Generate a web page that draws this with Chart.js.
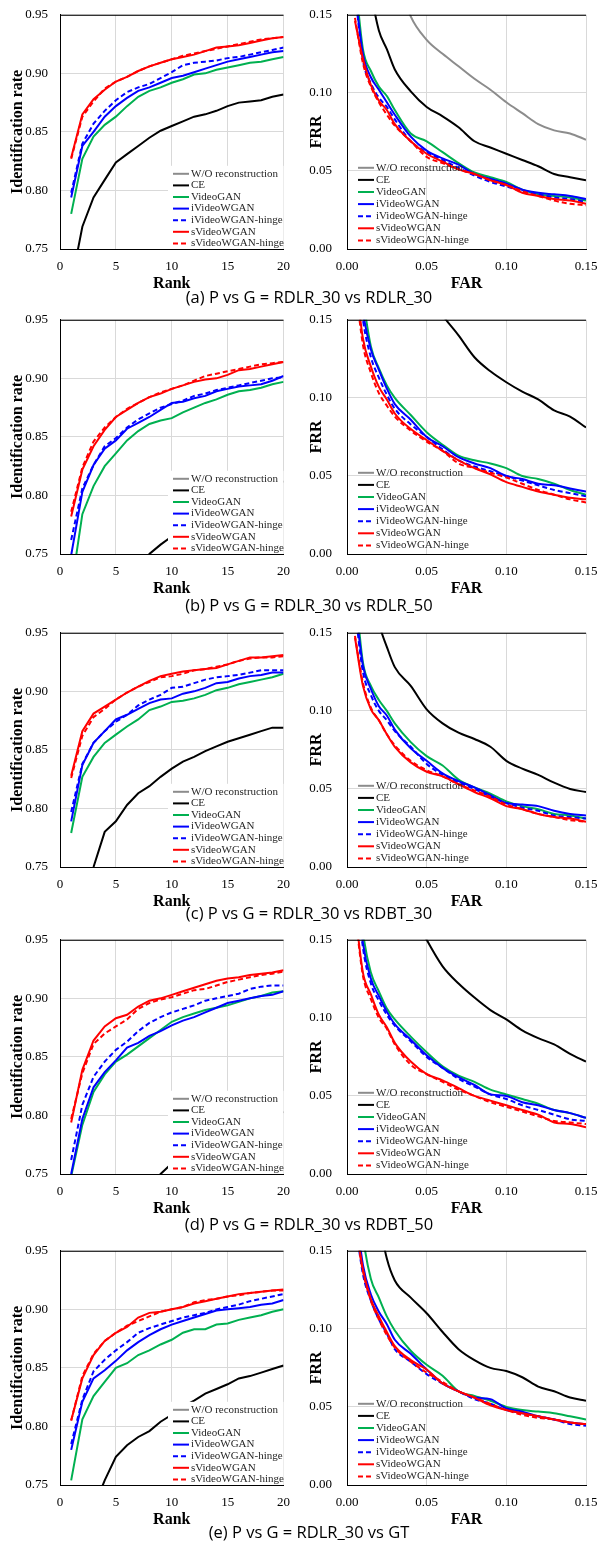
<!DOCTYPE html>
<html>
<head>
<meta charset="utf-8">
<script src="https://cdn.jsdelivr.net/npm/chart.js@4.4.1/dist/chart.umd.min.js"></script>
<style>
  html, body { margin: 0; padding: 0; background: #fff; overflow: hidden; }
  body { position: relative; width: 597px; height: 1543px; }
  canvas { position: absolute; }
  .cap { position: absolute; left: 109px; width: 400px; text-align: center;
         font: 16.5px "Open Sans", sans-serif; line-height: 20px; color: #000; }
</style>
</head>
<body>
<script>
// 系列名稱與樣式
const seriesLabels = ['W/O reconstruction', 'CE', 'VideoGAN', 'iVideoWGAN', 'iVideoWGAN-hinge', 'sVideoWGAN', 'sVideoWGAN-hinge'];
const seriesColors = ['#8c8c8c', '#000000', '#00b050', '#0000ff', '#0000ff', '#ff0000', '#ff0000'];
const seriesDashed = [false, false, false, false, true, false, true];

const ranks = [1, 2, 3, 4, 5, 6, 7, 8, 9, 10, 11, 12, 13, 14, 15, 16, 17, 18, 19, 20];
const farValues = [0.005, 0.01, 0.015, 0.02, 0.025, 0.03, 0.04, 0.05, 0.06, 0.07, 0.08, 0.09, 0.10, 0.11, 0.12, 0.13, 0.14, 0.15];

const rankTicks = [0, 5, 10, 15, 20];
const idRateTicks = [0.75, 0.80, 0.85, 0.90, 0.95];
const errTicks = [0.00, 0.05, 0.10, 0.15];

const captions = [
  '(a) P vs G = RDLR_30 vs RDLR_30',
  '(b) P vs G = RDLR_30 vs RDLR_50',
  '(c) P vs G = RDLR_30 vs RDBT_30',
  '(d) P vs G = RDLR_30 vs RDBT_50',
  '(e) P vs G = RDLR_30 vs GT'
];

// Identification rate (rank 1..20), 順序同 seriesLabels
const idRateA = [
  [0.58, 0.61, 0.63, 0.645, 0.655, 0.665, 0.675, 0.683, 0.69, 0.697, 0.703, 0.708, 0.713, 0.718, 0.722, 0.726, 0.73, 0.733, 0.736, 0.739],
  [0.72, 0.769, 0.794, 0.809, 0.824, 0.831, 0.838, 0.845, 0.851, 0.855, 0.859, 0.863, 0.865, 0.868, 0.872, 0.875, 0.876, 0.877, 0.880, 0.882],
  [0.780, 0.827, 0.846, 0.856, 0.863, 0.872, 0.880, 0.885, 0.888, 0.892, 0.895, 0.899, 0.900, 0.903, 0.905, 0.907, 0.909, 0.910, 0.912, 0.914],
  [0.794, 0.838, 0.850, 0.863, 0.872, 0.879, 0.885, 0.888, 0.892, 0.896, 0.898, 0.901, 0.904, 0.907, 0.910, 0.912, 0.914, 0.916, 0.918, 0.919],
  [0.798, 0.840, 0.857, 0.868, 0.877, 0.884, 0.888, 0.891, 0.896, 0.901, 0.907, 0.909, 0.910, 0.911, 0.913, 0.914, 0.916, 0.918, 0.920, 0.922],
  [0.828, 0.865, 0.878, 0.886, 0.893, 0.897, 0.902, 0.906, 0.909, 0.912, 0.914, 0.916, 0.919, 0.922, 0.923, 0.924, 0.926, 0.928, 0.930, 0.931],
  [0.827, 0.863, 0.876, 0.887, 0.893, 0.897, 0.902, 0.906, 0.909, 0.912, 0.915, 0.917, 0.919, 0.921, 0.923, 0.925, 0.927, 0.929, 0.930, 0.931]
];
const idRateB = [
  [0.52, 0.55, 0.57, 0.59, 0.60, 0.61, 0.62, 0.63, 0.64, 0.645, 0.65, 0.655, 0.66, 0.665, 0.67, 0.674, 0.678, 0.682, 0.686, 0.69],
  [0.60, 0.64, 0.665, 0.685, 0.70, 0.715, 0.73, 0.75, 0.758, 0.765, 0.772, 0.778, 0.784, 0.789, 0.794, 0.798, 0.802, 0.806, 0.809, 0.812],
  [0.72, 0.784, 0.808, 0.825, 0.836, 0.847, 0.855, 0.861, 0.864, 0.866, 0.871, 0.875, 0.879, 0.882, 0.886, 0.889, 0.890, 0.892, 0.895, 0.897],
  [0.749, 0.803, 0.826, 0.840, 0.847, 0.857, 0.862, 0.867, 0.873, 0.879, 0.880, 0.883, 0.885, 0.889, 0.891, 0.893, 0.894, 0.895, 0.898, 0.902],
  [0.762, 0.806, 0.826, 0.842, 0.849, 0.858, 0.865, 0.870, 0.875, 0.878, 0.881, 0.885, 0.887, 0.890, 0.892, 0.894, 0.896, 0.898, 0.900, 0.901],
  [0.782, 0.822, 0.842, 0.856, 0.867, 0.873, 0.879, 0.884, 0.887, 0.891, 0.894, 0.897, 0.899, 0.900, 0.903, 0.907, 0.908, 0.910, 0.912, 0.914],
  [0.786, 0.824, 0.846, 0.858, 0.867, 0.874, 0.879, 0.884, 0.888, 0.891, 0.894, 0.898, 0.902, 0.904, 0.906, 0.908, 0.910, 0.912, 0.913, 0.914]
];
const idRateC = [
  [0.56, 0.59, 0.61, 0.625, 0.64, 0.65, 0.66, 0.668, 0.676, 0.683, 0.69, 0.695, 0.70, 0.705, 0.71, 0.714, 0.718, 0.722, 0.726, 0.73],
  [0.70, 0.725, 0.750, 0.780, 0.789, 0.803, 0.813, 0.819, 0.827, 0.834, 0.840, 0.844, 0.849, 0.853, 0.857, 0.860, 0.863, 0.866, 0.869, 0.869],
  [0.779, 0.827, 0.844, 0.856, 0.863, 0.870, 0.876, 0.884, 0.887, 0.891, 0.892, 0.894, 0.897, 0.901, 0.903, 0.906, 0.908, 0.910, 0.912, 0.915],
  [0.789, 0.837, 0.856, 0.866, 0.876, 0.880, 0.885, 0.890, 0.893, 0.894, 0.898, 0.900, 0.903, 0.907, 0.908, 0.911, 0.913, 0.914, 0.916, 0.916],
  [0.797, 0.838, 0.856, 0.866, 0.874, 0.880, 0.888, 0.893, 0.897, 0.903, 0.904, 0.907, 0.910, 0.912, 0.913, 0.914, 0.916, 0.918, 0.918, 0.918],
  [0.828, 0.866, 0.881, 0.887, 0.893, 0.899, 0.904, 0.909, 0.913, 0.915, 0.917, 0.918, 0.919, 0.920, 0.923, 0.926, 0.929, 0.929, 0.930, 0.931],
  [0.826, 0.862, 0.878, 0.885, 0.893, 0.899, 0.904, 0.908, 0.912, 0.913, 0.915, 0.918, 0.919, 0.921, 0.923, 0.926, 0.928, 0.929, 0.929, 0.930]
];
const idRateD = [
  [0.50, 0.53, 0.55, 0.57, 0.58, 0.59, 0.60, 0.61, 0.62, 0.63, 0.635, 0.64, 0.645, 0.65, 0.655, 0.66, 0.665, 0.67, 0.674, 0.678],
  [0.55, 0.60, 0.64, 0.67, 0.69, 0.71, 0.725, 0.738, 0.750, 0.759, 0.767, 0.774, 0.780, 0.785, 0.789, 0.793, 0.796, 0.799, 0.801, 0.803],
  [0.748, 0.792, 0.820, 0.835, 0.846, 0.852, 0.859, 0.866, 0.873, 0.880, 0.884, 0.887, 0.890, 0.892, 0.894, 0.897, 0.900, 0.902, 0.905, 0.906],
  [0.750, 0.797, 0.824, 0.837, 0.847, 0.858, 0.862, 0.868, 0.872, 0.877, 0.881, 0.884, 0.888, 0.892, 0.896, 0.898, 0.900, 0.902, 0.903, 0.906],
  [0.762, 0.809, 0.833, 0.846, 0.856, 0.863, 0.872, 0.879, 0.884, 0.888, 0.891, 0.894, 0.898, 0.900, 0.902, 0.904, 0.908, 0.910, 0.911, 0.911],
  [0.794, 0.839, 0.864, 0.876, 0.883, 0.886, 0.893, 0.898, 0.900, 0.903, 0.906, 0.909, 0.912, 0.915, 0.917, 0.918, 0.920, 0.921, 0.922, 0.924],
  [0.797, 0.836, 0.861, 0.870, 0.876, 0.882, 0.891, 0.896, 0.899, 0.901, 0.904, 0.907, 0.908, 0.911, 0.914, 0.916, 0.918, 0.920, 0.921, 0.923]
];
const idRateE = [
  [0.54, 0.57, 0.59, 0.61, 0.62, 0.63, 0.64, 0.65, 0.66, 0.667, 0.674, 0.68, 0.686, 0.69, 0.695, 0.70, 0.704, 0.708, 0.712, 0.716],
  [0.68, 0.70, 0.73, 0.754, 0.774, 0.784, 0.791, 0.796, 0.804, 0.810, 0.817, 0.822, 0.828, 0.832, 0.836, 0.841, 0.843, 0.846, 0.849, 0.852],
  [0.754, 0.806, 0.826, 0.838, 0.850, 0.854, 0.861, 0.865, 0.870, 0.874, 0.880, 0.883, 0.883, 0.887, 0.888, 0.891, 0.893, 0.895, 0.898, 0.900],
  [0.780, 0.821, 0.841, 0.848, 0.856, 0.865, 0.872, 0.878, 0.883, 0.887, 0.890, 0.893, 0.896, 0.899, 0.900, 0.901, 0.902, 0.904, 0.905, 0.908],
  [0.785, 0.823, 0.847, 0.857, 0.865, 0.872, 0.880, 0.884, 0.887, 0.890, 0.893, 0.895, 0.897, 0.900, 0.902, 0.904, 0.907, 0.909, 0.911, 0.913],
  [0.805, 0.841, 0.861, 0.873, 0.880, 0.885, 0.893, 0.897, 0.898, 0.900, 0.902, 0.905, 0.907, 0.909, 0.911, 0.913, 0.914, 0.915, 0.916, 0.917],
  [0.805, 0.843, 0.862, 0.873, 0.880, 0.886, 0.890, 0.894, 0.898, 0.900, 0.902, 0.906, 0.908, 0.909, 0.911, 0.912, 0.914, 0.915, 0.916, 0.916]
];

// FRR (at farValues), 順序同 seriesLabels
const frrA = [
  [0.45, 0.35, 0.29, 0.24, 0.21, 0.18, 0.149, 0.134, 0.125, 0.117, 0.109, 0.102, 0.094, 0.087, 0.080, 0.076, 0.074, 0.070],
  [0.27, 0.20, 0.165, 0.140, 0.128, 0.115, 0.101, 0.091, 0.085, 0.078, 0.069, 0.065, 0.061, 0.057, 0.053, 0.048, 0.046, 0.044],
  [0.175, 0.128, 0.114, 0.104, 0.098, 0.089, 0.074, 0.069, 0.062, 0.055, 0.049, 0.046, 0.043, 0.038, 0.035, 0.034, 0.033, 0.031],
  [0.165, 0.125, 0.110, 0.102, 0.094, 0.086, 0.072, 0.063, 0.058, 0.054, 0.048, 0.045, 0.042, 0.038, 0.036, 0.035, 0.034, 0.032],
  [0.165, 0.121, 0.106, 0.097, 0.091, 0.083, 0.069, 0.062, 0.057, 0.052, 0.047, 0.043, 0.040, 0.037, 0.035, 0.033, 0.032, 0.030],
  [0.146, 0.122, 0.105, 0.095, 0.089, 0.080, 0.069, 0.061, 0.056, 0.051, 0.048, 0.044, 0.041, 0.036, 0.034, 0.032, 0.031, 0.029],
  [0.148, 0.119, 0.104, 0.094, 0.086, 0.079, 0.069, 0.059, 0.055, 0.051, 0.048, 0.044, 0.041, 0.037, 0.034, 0.031, 0.029, 0.028]
];
const frrB = [
  [0.62, 0.50, 0.44, 0.40, 0.37, 0.34, 0.31, 0.29, 0.27, 0.255, 0.24, 0.23, 0.22, 0.21, 0.20, 0.19, 0.18, 0.175],
  [0.42, 0.35, 0.30, 0.27, 0.245, 0.22, 0.19, 0.17, 0.153, 0.140, 0.126, 0.117, 0.110, 0.104, 0.099, 0.092, 0.088, 0.081],
  [0.21, 0.165, 0.133, 0.119, 0.108, 0.100, 0.089, 0.078, 0.070, 0.063, 0.060, 0.058, 0.055, 0.050, 0.048, 0.045, 0.041, 0.038],
  [0.20, 0.155, 0.131, 0.118, 0.106, 0.096, 0.086, 0.075, 0.069, 0.062, 0.058, 0.055, 0.050, 0.048, 0.045, 0.044, 0.042, 0.040],
  [0.195, 0.150, 0.126, 0.113, 0.102, 0.093, 0.083, 0.075, 0.067, 0.060, 0.056, 0.053, 0.050, 0.047, 0.044, 0.041, 0.039, 0.037],
  [0.18, 0.138, 0.120, 0.107, 0.099, 0.090, 0.080, 0.073, 0.066, 0.060, 0.055, 0.051, 0.046, 0.043, 0.040, 0.038, 0.036, 0.035],
  [0.175, 0.134, 0.116, 0.103, 0.095, 0.088, 0.079, 0.072, 0.066, 0.058, 0.055, 0.052, 0.049, 0.045, 0.041, 0.038, 0.035, 0.033]
];
const frrC = [
  [0.60, 0.48, 0.42, 0.38, 0.35, 0.32, 0.29, 0.27, 0.25, 0.235, 0.22, 0.21, 0.20, 0.19, 0.18, 0.172, 0.165, 0.16],
  [0.29, 0.22, 0.18, 0.156, 0.141, 0.128, 0.116, 0.101, 0.092, 0.086, 0.082, 0.077, 0.068, 0.063, 0.059, 0.054, 0.050, 0.048],
  [0.18, 0.131, 0.116, 0.107, 0.100, 0.092, 0.080, 0.071, 0.065, 0.056, 0.051, 0.047, 0.042, 0.039, 0.037, 0.034, 0.033, 0.031],
  [0.17, 0.129, 0.114, 0.103, 0.097, 0.088, 0.076, 0.068, 0.060, 0.055, 0.051, 0.046, 0.041, 0.040, 0.039, 0.036, 0.034, 0.033],
  [0.165, 0.125, 0.110, 0.100, 0.094, 0.087, 0.077, 0.066, 0.059, 0.054, 0.050, 0.045, 0.041, 0.038, 0.036, 0.033, 0.032, 0.031],
  [0.147, 0.116, 0.101, 0.094, 0.085, 0.077, 0.067, 0.061, 0.058, 0.053, 0.048, 0.044, 0.039, 0.037, 0.034, 0.032, 0.031, 0.029],
  [0.148, 0.118, 0.102, 0.094, 0.085, 0.078, 0.068, 0.062, 0.058, 0.053, 0.049, 0.045, 0.040, 0.037, 0.034, 0.032, 0.030, 0.029]
];
const frrD = [
  [0.64, 0.52, 0.46, 0.42, 0.38, 0.35, 0.32, 0.30, 0.28, 0.26, 0.245, 0.235, 0.225, 0.215, 0.205, 0.195, 0.185, 0.18],
  [0.40, 0.33, 0.29, 0.25, 0.22, 0.20, 0.17, 0.150, 0.133, 0.122, 0.113, 0.105, 0.099, 0.092, 0.087, 0.083, 0.077, 0.072],
  [0.21, 0.155, 0.129, 0.117, 0.106, 0.099, 0.088, 0.078, 0.069, 0.063, 0.059, 0.054, 0.051, 0.048, 0.045, 0.041, 0.039, 0.036],
  [0.20, 0.148, 0.125, 0.114, 0.104, 0.096, 0.086, 0.076, 0.068, 0.062, 0.057, 0.051, 0.050, 0.046, 0.044, 0.041, 0.039, 0.036],
  [0.195, 0.145, 0.122, 0.111, 0.102, 0.095, 0.085, 0.075, 0.068, 0.061, 0.056, 0.051, 0.048, 0.044, 0.041, 0.038, 0.035, 0.034],
  [0.17, 0.129, 0.115, 0.102, 0.094, 0.084, 0.072, 0.064, 0.060, 0.055, 0.050, 0.047, 0.044, 0.041, 0.038, 0.033, 0.032, 0.030],
  [0.168, 0.127, 0.112, 0.100, 0.093, 0.083, 0.070, 0.064, 0.059, 0.054, 0.050, 0.046, 0.043, 0.040, 0.037, 0.034, 0.033, 0.032]
];
const frrE = [
  [0.58, 0.47, 0.41, 0.37, 0.34, 0.31, 0.28, 0.26, 0.245, 0.23, 0.215, 0.205, 0.195, 0.185, 0.178, 0.17, 0.164, 0.158],
  [0.30, 0.24, 0.20, 0.17, 0.145, 0.131, 0.120, 0.110, 0.098, 0.087, 0.080, 0.075, 0.073, 0.069, 0.063, 0.060, 0.056, 0.054],
  [0.22, 0.16, 0.132, 0.120, 0.108, 0.099, 0.086, 0.077, 0.070, 0.060, 0.057, 0.054, 0.050, 0.048, 0.047, 0.046, 0.044, 0.042],
  [0.18, 0.141, 0.122, 0.111, 0.103, 0.093, 0.084, 0.074, 0.065, 0.060, 0.056, 0.055, 0.049, 0.047, 0.044, 0.042, 0.040, 0.039],
  [0.17, 0.135, 0.118, 0.106, 0.097, 0.087, 0.079, 0.071, 0.065, 0.060, 0.055, 0.052, 0.048, 0.046, 0.044, 0.042, 0.039, 0.038],
  [0.17, 0.138, 0.119, 0.108, 0.098, 0.089, 0.080, 0.074, 0.065, 0.060, 0.056, 0.051, 0.048, 0.046, 0.044, 0.042, 0.040, 0.039],
  [0.168, 0.137, 0.118, 0.106, 0.096, 0.088, 0.079, 0.072, 0.066, 0.060, 0.056, 0.052, 0.048, 0.045, 0.043, 0.042, 0.040, 0.039]
];

const idRatePanels = [idRateA, idRateB, idRateC, idRateD, idRateE];
const frrPanels = [frrA, frrB, frrC, frrD, frrE];

// 版面
const plotTops = [15, 320, 633, 940, 1251];
const plotHeight = 234;
const xAxisHeight = 45;
const captionCenters = [297, 605, 913, 1224, 1532];
const serif = '"Liberation Serif", "Times New Roman", serif';

// 圖內圖例 + 上框線
const innerLegend = {
  id: 'innerLegend',
  afterDatasetsDraw(chart, args, o) {
    const { ctx, chartArea: a } = chart;
    ctx.save();
    if (o.opaque) {
      ctx.fillStyle = '#fff';
      ctx.fillRect(a.left + o.boxX, a.top + o.boxY, a.right - a.left - o.boxX, a.bottom - a.top - o.boxY);
    }
    ctx.font = '11px ' + serif;
    ctx.textBaseline = 'middle';
    chart.data.datasets.forEach((ds, i) => {
      const y = a.top + o.y0 + i * o.dy;
      ctx.strokeStyle = ds.borderColor;
      ctx.lineWidth = 2;
      ctx.setLineDash(ds.borderDash || []);
      ctx.beginPath();
      ctx.moveTo(a.left + o.x0, y);
      ctx.lineTo(a.left + o.x0 + 16, y);
      ctx.stroke();
      ctx.fillStyle = '#262626';
      ctx.fillText(ds.label, a.left + o.x0 + 18, y);
    });
    ctx.setLineDash([]);
    ctx.lineWidth = 1;
    ctx.strokeStyle = '#000';
    ctx.beginPath();
    ctx.moveTo(a.left, a.top + 0.5);
    ctx.lineTo(a.right, a.top + 0.5);
    ctx.stroke();
    ctx.restore();
  }
};

function makeDatasets(xs, rows, smooth) {
  return rows.map((vals, i) => ({
    label: seriesLabels[i],
    data: vals.map((v, j) => ({ x: xs[j], y: v })),
    borderColor: seriesColors[i],
    borderDash: seriesDashed[i] ? [5, 3] : [],
    borderWidth: 2,
    pointRadius: 0,
    cubicInterpolationMode: smooth ? 'monotone' : 'default',
    order: rows.length - i,
    clip: 0
  }));
}

function axisOpts(min, max, ticksArr, title, isX, extra) {
  return {
    type: 'linear', min: min, max: max,
    afterBuildTicks: s => { s.ticks = ticksArr.map(v => ({ value: v })); },
    afterFit: s => { if (isX) s.height = xAxisHeight; else s.width = extra.width; },
    grid: { color: '#d9d9d9', drawTicks: false },
    border: { color: '#000', width: 1 },
    ticks: {
      color: '#000', font: { family: serif, size: 13 },
      padding: isX ? 10 : extra.pad,
      maxRotation: 0, autoSkip: false,
      callback: v => extra.fixed ? Number(v).toFixed(2) : v
    },
    title: {
      display: true, text: title, color: '#000',
      font: { family: serif, size: 16, weight: 'bold' },
      padding: isX ? { top: 0, bottom: 1 } : { top: extra.titlePad, bottom: 0 }
    }
  };
}

function buildChart(width, height, padRight, cfg) {
  const cv = document.createElement('canvas');
  cv.width = width; cv.height = height;
  document.body.appendChild(cv);
  const chart = new Chart(cv.getContext('2d'), {
    type: 'line',
    data: { datasets: cfg.datasets },
    options: {
      responsive: false, animation: false, devicePixelRatio: 1,
      layout: { padding: { top: 15, right: padRight, left: 0, bottom: 0 } },
      elements: { line: { tension: 0 } },
      plugins: { legend: { display: false }, tooltip: { enabled: false }, innerLegend: cfg.legend },
      scales: { x: cfg.x, y: cfg.y }
    },
    plugins: [innerLegend]
  });
  return { cv, chart };
}

// 先量出 chartArea.top，再以正確高度重畫，讓繪圖區貼齊參考圖位置
function makeChart(left, plotTop, width, padRight, cfgFn) {
  const probe = buildChart(width, 300, padRight, cfgFn());
  const areaTop = probe.chart.chartArea.top;
  probe.chart.destroy();
  probe.cv.remove();
  const real = buildChart(width, Math.round(areaTop + plotHeight + xAxisHeight), padRight, cfgFn());
  real.cv.style.left = left + 'px';
  real.cv.style.top = (plotTop - areaTop) + 'px';
}

plotTops.forEach((pt, k) => {
  // 左：Rank vs Identification rate
  makeChart(0, pt, 300, 10, () => ({
    datasets: makeDatasets(ranks, idRatePanels[k], false),
    x: axisOpts(0, 20, rankTicks, 'Rank', true, { fixed: false }),
    y: axisOpts(0.75, 0.95, idRateTicks, 'Identification rate', false, { width: 60, pad: 12, titlePad: 8, fixed: true }),
    legend: { opaque: true, boxX: 108, boxY: 151, x0: 113, y0: 159, dy: 11.6 }
  }));
  // 右：FAR vs FRR
  makeChart(297, pt, 320, 31, () => ({
    datasets: makeDatasets(farValues, frrPanels[k], true),
    x: axisOpts(0, 0.15, errTicks, 'FAR', true, { fixed: true }),
    y: axisOpts(0, 0.15, errTicks, 'FRR', false, { width: 50, pad: 15, titlePad: 10, fixed: true }),
    legend: { opaque: false, x0: 11, y0: 153, dy: 12.1 }
  }));
  const cap = document.createElement('div');
  cap.className = 'cap';
  cap.style.top = (captionCenters[k] - 10) + 'px';
  cap.textContent = captions[k];
  document.body.appendChild(cap);
});
</script>
</body>
</html>
